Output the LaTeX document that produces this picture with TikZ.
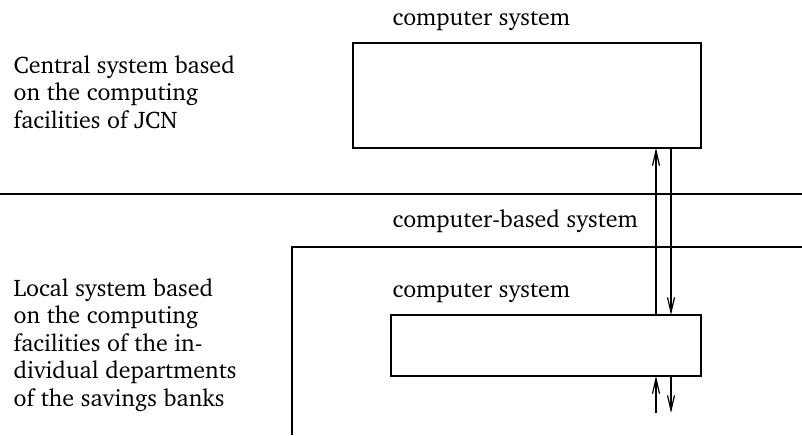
\documentclass[tikz,border=0pt]{standalone}
\usepackage[T1]{fontenc}
\usepackage{charter}
\usetikzlibrary{arrows.meta}

\tikzset{
  box/.style = {draw, line width=0.6pt, inner sep=0pt, outer sep=0pt},
  lbl/.style = {anchor=base west, inner sep=0pt},
  side/.style = {anchor=north west, inner sep=0pt, align=left},
  flow/.style = {line width=0.6pt, -{Straight Barb[length=7.5pt,width=3.5pt]}}
}

\begin{document}
\begin{tikzpicture}[x=0.5pt, y=-0.5pt, font=\fontsize{12}{13.75}\selectfont, line width=0.6pt]

    \useasboundingbox (0,0) rectangle (802,435);

    % central part
    \node[side] (centraltxt) at (13,55) {Central system based\\on the computing\\facilities of JCN};
    \node[lbl] (toplbl) at (392,25) {computer system};
    \node[box, minimum width=174pt, minimum height=52.5pt] (central) at (527,95.5) {};

    % separation
    \coordinate (sepl) at (0,194);
    \coordinate (sepr) at (802,194);
    \draw (sepl) -- (sepr);

    % local part
    \node[side] (localtxt) at (13,278) {Local system based\\on the computing\\facilities of the in-\\dividual departments\\of the savings banks};
    \node[lbl] (cbslbl) at (392,227) {computer-based system};
    \coordinate (cbsa) at (292,435);
    \coordinate (cbsb) at (292,247);
    \coordinate (cbsc) at (802,247);
    \draw (cbsa) -- (cbsb) -- (cbsc);

    \node[lbl] (lowlbl) at (392,297) {computer system};
    \node[box, minimum width=155pt, minimum height=30.5pt] (local) at (546,345.5) {};

    % exchange
    \coordinate (up) at (656,0);
    \coordinate (down) at (671,0);
    \coordinate (bot) at (0,413);
    \draw[flow] (local.north -| up) -- (central.south -| up);
    \draw[flow] (central.south -| down) -- (local.north -| down);
    \draw[flow] (bot -| up) -- (local.south -| up);
    \draw[flow] (local.south -| down) -- (bot -| down);

\end{tikzpicture}
\end{document}
